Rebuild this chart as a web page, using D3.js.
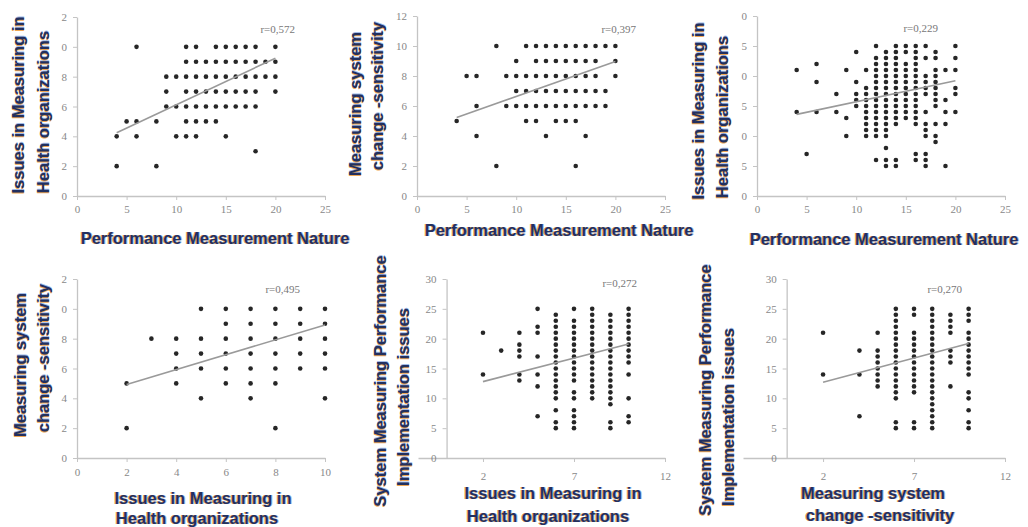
<!DOCTYPE html>
<html>
<head>
<meta charset="utf-8">
<script src="https://cdn.jsdelivr.net/npm/d3@7"></script>
<style>
  body { margin: 0; background: #fff; }
  .title { font-family: "Liberation Sans", Arial, sans-serif; font-weight: bold; font-size: 16.5px; fill: #22305f;
           text-shadow: -1px 0 0 rgba(235,150,50,0.85), 1px 0 0 rgba(70,120,210,0.5); }
  .tick text { font-family: "Liberation Serif", "Times New Roman", serif; font-size: 11px; fill: #888; }
  .rlab { font-family: "Liberation Serif", "Times New Roman", serif; font-size: 11px; fill: #777; }
</style>
</head>
<body>
<div id="chart"></div>
<script>
var w = 1028, h = 527;

// correlation labels, one per panel
var rLabels = ["r=0,572", "r=0,397", "r=0,229", "r=0,495", "r=0,272", "r=0,270"];

// points read column by column: [x, [y values]]
var p1Points = [[4,[4,2]],[5,[5]],[6,[10,5,4]],[8,[5,2]],[9,[8,7,6]],[10,[8,6,4]],
  [11,[10,9,8,7,6,5,4]],[12,[10,9,8,7,6,5,4]],[13,[9,8,7,6,5]],[14,[10,9,8,7,6,5]],
  [15,[10,9,8,7,6,4]],[16,[10,9,8,7,6]],[17,[10,9,8,7,6]],[18,[10,9,8,7,6,3]],[19,[9,8]],[20,[10,9,8,7]]];

var p2Points = [[4,[5]],[5,[8]],[6,[8,6,4]],[8,[10,2]],[9,[8,6]],[10,[9,8,7,6]],
  [11,[10,8,7,6,5]],[12,[10,9,8,7,6,5]],[13,[10,9,8,7,6,4]],[14,[10,9,8,7,6,5]],
  [15,[10,9,8,7,6,5]],[16,[10,9,8,7,6,5,2]],[17,[10,9,8,7,6,4]],[18,[10,9,8,7,6]],[19,[10,7,6]],[20,[10,9,8]]];

var p3Points = [[4,[21,14]],[5,[7]],[6,[22,19,14]],[8,[17,14]],[9,[21,13,10]],[10,[24,19,17,16,15]],
  [11,[21,18,17,16,15,14,13,12,11,10]],
  [12,[25,23,22,21,20,19,18,17,16,15,14,13,12,11,10,6]],
  [13,[24,23,22,21,20,19,18,17,16,15,14,13,12,11,10,8,6,5]],
  [14,[25,24,23,22,21,20,19,18,17,16,15,14,13,12,6,5]],
  [15,[25,24,22,21,20,19,18,17,16,15,14,13]],
  [16,[25,24,23,22,21,20,19,18,17,16,15,14,13,12,7,6]],
  [17,[25,23,20,19,18,17,14,12,11,10,7,6,5]],
  [18,[24,23,21,20,19,18,17,16,15,12,10,9]],
  [19,[21,16,14,12,5]],[20,[25,23,21,18,17,14]]];

var p4Points = [[2,[5,2]],[3,[8]],[4,[8,7,6,5]],[5,[10,8,7,6,4]],[6,[10,9,8,7,6,5]],
  [7,[10,9,8,7,6,5,4]],[8,[10,9,8,7,6,5,2]],[9,[10,9,8,7,6]],[10,[10,9,8,7,6,4]]];

var p5Points = [[2,[21,14]],[3,[18]],[4,[21,19,18,17,14,13]],[5,[25,22,21,17,14,12,7]],
  [6,[24,23,22,21,20,19,18,17,16,15,14,13,12,11,10,8,6,5]],
  [7,[25,23,22,21,20,19,18,17,16,15,14,13,11,10,8,7,6,5]],
  [8,[25,24,23,22,21,20,19,18,17,16,15,14,13,12,11,10]],
  [9,[24,23,22,21,20,19,18,17,16,15,14,13,12,11,10,9,6,5]],
  [10,[25,24,23,22,21,20,19,18,17,16,14,10,7,6]]];

var p6Points = [[2,[21,14]],[4,[18,14,7]],[5,[21,18,17,16,15,14,13,12]],
  [6,[25,24,23,22,21,20,19,18,17,16,15,14,13,12,11,10,6,5]],
  [7,[25,24,21,20,19,18,17,16,15,14,13,12,11,6,5]],
  [8,[25,24,23,22,21,20,19,18,17,16,15,14,13,12,11,10,9,8,7,6,5]],
  [9,[24,23,22,21,18,17,16,12]],
  [10,[25,24,23,21,20,19,18,17,16,15,14,11,10,8,6,5]]];

// trend line end points
var trends = [[[4,4.24],[20,9.24]], [[4,5.24],[20,8.96]], [[4,13.6],[20,19.2]],
              [[2,4.93],[10,8.92]], [[2,12.8],[10,19.1]], [[2,12.7],[10,19.2]]];

var ticks25 = [0,5,10,15,20,25], ticks10 = [0,2,4,6,8,10], ticks12 = [2,7,12];
var yTicks12 = [0,2,4,6,8,10,12], yTicks30 = [0,5,10,15,20,25,30];

var lastDigit = function (d) { return String(d).slice(-1); };

var panels = [
  { pts: p1Points, xd: [0,25], xr: [77,325], yd: [0,12], yr: [196,17], xt: ticks25, yt: yTicks12, fmt: lastDigit, pad: 5, r: [295,33],
    titles: [["Issues in Measuring in",18,105,1], ["Health organizations",43,112,1], ["Performance Measurement Nature",215,238,0]] },
  { pts: p2Points, xd: [0,25], xr: [417,665], yd: [0,12], yr: [196,16], xt: ticks25, yt: yTicks12, fmt: String, pad: 5, r: [636,33],
    titles: [["Measuring system",355,104,1], ["change -sensitivity",377,96,1], ["Performance Measurement Nature",559,230,0]] },
  { pts: p3Points, xd: [0,25], xr: [757,1005], yd: [0,30], yr: [196,16], xt: ticks25, yt: yTicks30, fmt: lastDigit, pad: 5, r: [938,32],
    titles: [["Issues in Measuring in",698,111,1], ["Health organizations",722,117,1], ["Performance Measurement Nature",884,239,0]] },
  { pts: p4Points, xd: [0,10], xr: [77,325], yd: [0,12], yr: [458,279], xt: ticks10, yt: yTicks12, fmt: lastDigit, pad: 6, r: [300,293],
    titles: [["Measuring system",20,365,1], ["change -sensitivity",43,358,1], ["Issues in Measuring in",203,498,0], ["Health organizations",197,518,0]] },
  { pts: p5Points, xd: [-1.57,12], xr: [418,665], yd: [0,30], yr: [458,279], xt: ticks12, yt: yTicks30, fmt: String, pad: 10, r: [637,287],
    titles: [["System Measuring Performance",380,381,1], ["Implementation issues",403,397,1], ["Issues in Measuring in",553,493,0], ["Health organizations",548,516,0]] },
  { pts: p6Points, xd: [-2.4,12], xr: [743,1005], yd: [0,30], yr: [458,279], xt: ticks12, yt: yTicks30, fmt: String, pad: 10, r: [962,293],
    titles: [["System Measuring Performance",705,390,1], ["Implementation issues",728,417,1], ["Measuring system",873,493,0], ["change -sensitivity",880,515,0]] }
];

var svg = d3.select("#chart").append("svg").attr("width", w).attr("height", h);

var defs = svg.append("defs");
defs.append("filter").attr("id", "soft").append("feGaussianBlur").attr("stdDeviation", 0.45);

panels.forEach(function (p, i) {
  var x = d3.scaleLinear().domain(p.xd).range(p.xr);
  var y = d3.scaleLinear().domain(p.yd).range(p.yr);
  var g = svg.append("g");

  // x axis
  var xa = g.append("g").attr("transform", "translate(0," + y(0) + ")")
    .call(d3.axisBottom(x).tickValues(p.xt).tickSize(4).tickSizeOuter(0).tickPadding(p.pad));
  // y axis crosses at x = 0
  var ya = g.append("g").attr("transform", "translate(" + x(0) + ",0)")
    .call(d3.axisLeft(y).tickValues(p.yt).tickFormat(p.fmt).tickSize(4).tickSizeOuter(0).tickPadding(6));
  [xa, ya].forEach(function (a) {
    a.select(".domain").attr("stroke", "#c4c4c4").attr("stroke-width", 1.3);
    a.selectAll(".tick line").attr("stroke", "#c4c4c4");
  });

  // points
  var flat = [];
  p.pts.forEach(function (c) { c[1].forEach(function (v) { flat.push([c[0], v]); }); });
  g.append("g").attr("filter", "url(#soft)")
    .selectAll("circle").data(flat).enter().append("circle")
    .attr("cx", function (d) { return x(d[0]); })
    .attr("cy", function (d) { return y(d[1]); })
    .attr("r", 2.3)
    .attr("fill", "#262626");

  // trend line
  g.append("line")
    .attr("x1", x(trends[i][0][0])).attr("y1", y(trends[i][0][1]))
    .attr("x2", x(trends[i][1][0])).attr("y2", y(trends[i][1][1]))
    .attr("stroke", "#9a9a9a").attr("stroke-width", 1.6);

  g.append("text").attr("class", "rlab").attr("text-anchor", "end")
    .attr("x", p.r[0]).attr("y", p.r[1]).text(rLabels[i]);

  p.titles.forEach(function (t) {
    g.append("text").attr("class", "title")
      .attr("text-anchor", "middle").attr("dominant-baseline", "central")
      .attr("transform", "translate(" + t[1] + "," + t[2] + ")" + (t[3] ? " rotate(-90)" : ""))
      .text(t[0]);
  });
});
</script>
</body>
</html>
